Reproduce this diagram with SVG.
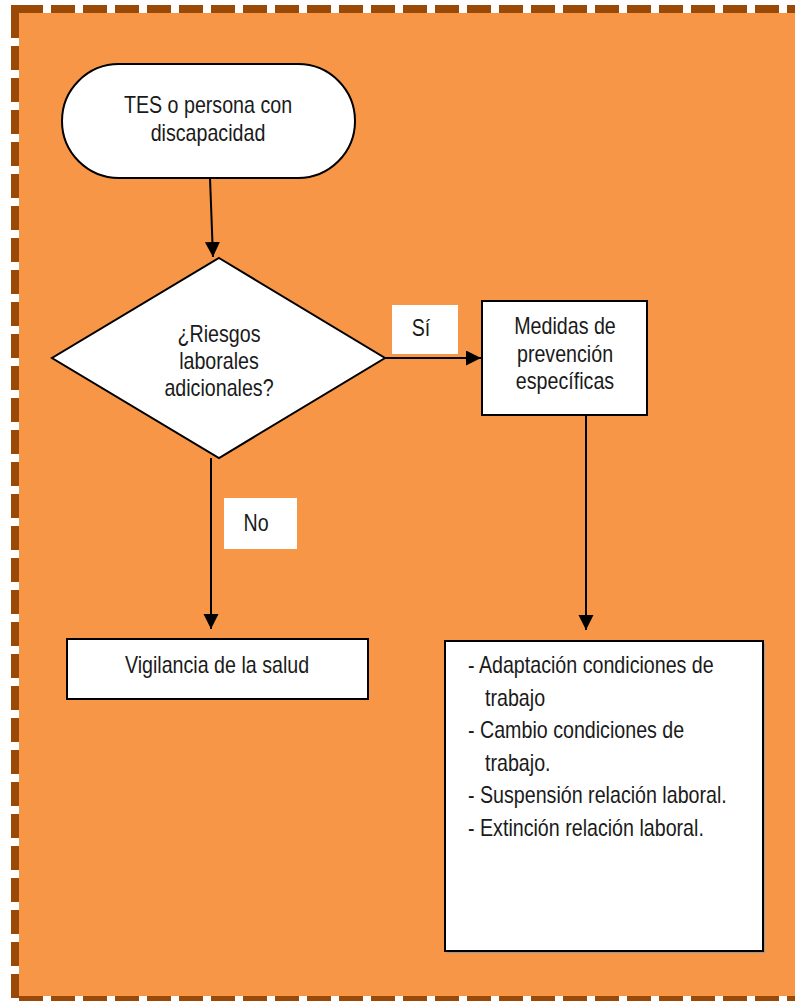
<svg xmlns="http://www.w3.org/2000/svg" width="795" height="1001" viewBox="0 0 795 1001">
<style>
.bg{fill:#F79646}
.border{stroke:#9A4A06;stroke-width:8;stroke-dasharray:24 8;fill:none}
.shape{fill:#ffffff;stroke:#000000;stroke-width:2}
.label{fill:#ffffff;stroke:none}
.conn{stroke:#000000;stroke-width:2;fill:none}
text{font-family:"Liberation Sans",Arial,sans-serif;font-size:23px;fill:#1a1a1a}
.c{text-anchor:middle}
</style>
<defs>
<marker id="arrow" markerUnits="userSpaceOnUse" markerWidth="16" markerHeight="16" refX="15" refY="7.5" orient="auto">
<path d="M0,0 L15,7.5 L0,15 z" fill="#000000"/>
</marker>
</defs>
<rect x="0" y="0" width="795" height="1001" fill="#ffffff"/>
<rect class="bg" x="19" y="13" width="776" height="983"/>
<g id="frame">
<line class="border" x1="19" y1="9" x2="795" y2="9"/>
<line class="border" x1="15" y1="5" x2="15" y2="1001" style="stroke-dasharray:33 8 24 8 24 8 24 8 24 8 24 8 24 8 24 8 24 8 24 8 24 8 24 8 24 8 24 8 24 8 24 8 24 8 24 8 24 8 24 8 24 8 24 8 24 8 24 8 24 8 24 8 24 8 24 8 24 8 24 8 24 8 24 8 24 8 24 8 24 8 24 8 24 8 24 8 24 8 24 8 24 8 24 8 24 8 24 8 24 8 24 8"/>
<line class="border" x1="19" y1="1000" x2="795" y2="1000"/>
</g>
<g id="connectors">
<line class="conn" x1="210" y1="178" x2="213" y2="257" marker-end="url(#arrow)"/>
<line class="conn" x1="384" y1="358" x2="481" y2="358" marker-end="url(#arrow)"/>
<line class="conn" x1="211" y1="458" x2="211" y2="629" marker-end="url(#arrow)"/>
<line class="conn" x1="586" y1="415" x2="586" y2="630" marker-end="url(#arrow)"/>
</g>
<g id="label-si">
<rect class="label" x="392" y="305" width="66" height="49"/>
<text class="c" transform="matrix(0.855 0 0 1 421 336)">Sí</text>
</g>
<g id="label-no">
<rect class="label" x="224" y="498" width="73" height="51"/>
<text class="c" transform="matrix(0.855 0 0 1 256 531)">No</text>
</g>
<g id="start">
<rect class="shape" x="62" y="64" width="293" height="114" rx="57" ry="57"/>
<text class="c" transform="matrix(0.855 0 0 1 208 113)">TES o persona con</text>
<text class="c" transform="matrix(0.855 0 0 1 208 141)">discapacidad</text>
</g>
<g id="decision">
<polygon class="shape" points="219,258 385,358 219,458 52,358"/>
<text class="c" transform="matrix(0.855 0 0 1 219 342)">¿Riesgos</text>
<text class="c" transform="matrix(0.855 0 0 1 219 369)">laborales</text>
<text class="c" transform="matrix(0.855 0 0 1 219 396)">adicionales?</text>
</g>
<g id="medidas">
<rect class="shape" x="482" y="301" width="165" height="114"/>
<text class="c" transform="matrix(0.855 0 0 1 565 334)">Medidas de</text>
<text class="c" transform="matrix(0.855 0 0 1 565 362)">prevención</text>
<text class="c" transform="matrix(0.855 0 0 1 565 389)">específicas</text>
</g>
<g id="vigilancia">
<rect class="shape" x="67" y="639" width="301" height="60"/>
<text class="c" transform="matrix(0.855 0 0 1 217 673)">Vigilancia de la salud</text>
</g>
<g id="acciones">
<rect x="447" y="643" width="318" height="310" fill="#9a9a9a"/>
<rect class="shape" x="445" y="641" width="318" height="310"/>
<text transform="matrix(0.855 0 0 1 468 673)">- Adaptación condiciones de</text>
<text transform="matrix(0.855 0 0 1 485 705.5)">trabajo</text>
<text transform="matrix(0.855 0 0 1 468 738)">- Cambio condiciones de</text>
<text transform="matrix(0.855 0 0 1 485 770.5)">trabajo.</text>
<text transform="matrix(0.855 0 0 1 468 803)">- Suspensión relación laboral.</text>
<text transform="matrix(0.855 0 0 1 468 835.5)">- Extinción relación laboral.</text>
</g>
</svg>
